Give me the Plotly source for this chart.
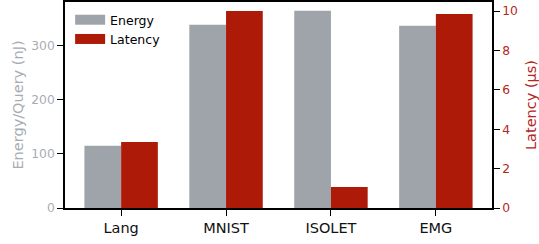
import plotly.graph_objects as go

categories = ["Lang", "MNIST", "ISOLET", "EMG"]
energy_nj = [115, 339, 365, 337]
latency_us = [3.35, 10.0, 1.07, 9.85]
energy_ticks = [0, 100, 200, 300]
latency_ticks = [0, 2, 4, 6, 8, 10]

GRAY = "#9fa4ab"
RED = "#ae1a08"
GRAY_TXT = "#a7acb3"
RED_TXT = "#b3261a"
FONT = "DejaVu Sans"

W, H = 539, 244
ML, MR, MT, MB = 65, 47, 2, 36

xs = list(range(len(categories)))

fig = go.Figure()
fig.add_trace(go.Bar(x=xs, y=energy_nj, width=0.35, offset=-0.35,
                     marker=dict(color=GRAY, line=dict(width=0)),
                     yaxis="y", showlegend=False, name="Energy"))
fig.add_trace(go.Bar(x=xs, y=latency_us, width=0.35, offset=0,
                     marker=dict(color=RED, line=dict(width=0)),
                     yaxis="y2", showlegend=False, name="Latency"))
# legend entries
fig.add_trace(go.Scatter(x=[None], y=[None], mode="lines", name="Energy",
                         line=dict(color=GRAY, width=10)))
fig.add_trace(go.Scatter(x=[None], y=[None], mode="lines", name="Latency",
                         line=dict(color=RED, width=10)))

axis_common = dict(showline=True, linecolor="black", linewidth=1.6,
                   ticks="outside", ticklen=6, tickwidth=1.3, tickcolor="black",
                   showgrid=False, zeroline=False, automargin=False)

fig.update_layout(
    width=W, height=H,
    margin=dict(l=ML, r=MR, t=MT, b=MB, pad=0),
    paper_bgcolor="white", plot_bgcolor="white",
    font=dict(family=FONT, size=12, color="black"),
    barmode="overlay",
    xaxis=dict(range=[-0.535, 3.535], tickmode="array", tickvals=xs,
               ticktext=categories, mirror=True,
               tickfont=dict(size=14.5, color="#111111"), **axis_common),
    yaxis=dict(range=[0, 381], tickmode="array", tickvals=energy_ticks,
               title=dict(text="Energy/Query (nJ)", standoff=4,
                          font=dict(size=14.5, color=GRAY_TXT)),
               tickfont=dict(size=12.3, color=GRAY_TXT), **axis_common),
    yaxis2=dict(range=[0, 10.46], tickmode="array", tickvals=latency_ticks,
                overlaying="y", side="right", anchor="x",
                title=dict(text="Latency (μs)", standoff=9,
                           font=dict(size=14.5, color=RED_TXT)),
                tickfont=dict(size=12.3, color=RED_TXT), **axis_common),
    legend=dict(x=0.012, y=0.985, xanchor="left", yanchor="top",
                bgcolor="rgba(0,0,0,0)", font=dict(size=12.5, color="black"),
                itemwidth=30, tracegroupgap=0),
)

fig.write_html("out.html", config={"displayModeBar": False},
               post_script="document.body.style.margin='0';document.body.style.padding='0';document.body.style.overflow='hidden';")
